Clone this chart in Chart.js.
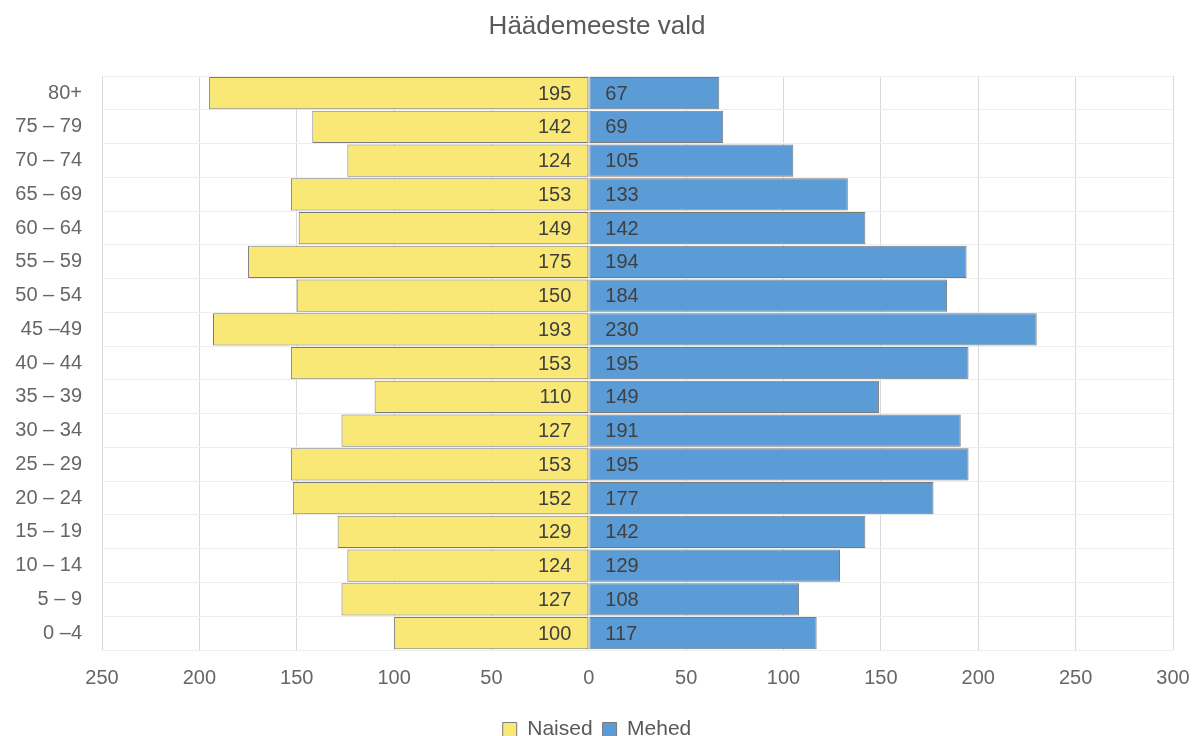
<!DOCTYPE html>
<html>
<head>
<meta charset="utf-8">
<script src="https://cdn.jsdelivr.net/npm/chart.js@4"></script>
<style>
  html, body { margin: 0; padding: 0; background: #fff; overflow: hidden; }
  #box { width: 1194px; height: 750px; }
</style>
</head>
<body>
<div id="box"><canvas id="pyramid"></canvas></div>
<script>
const vanused = ["80+", "75 – 79", "70 – 74", "65 – 69", "60 – 64", "55 – 59", "50 – 54", "45 –49",
  "40 – 44", "35 – 39", "30 – 34", "25 – 29", "20 – 24", "15 – 19", "10 – 14", "5 – 9", "0 –4"]
const naised = [195, 142, 124, 153, 149, 175, 150, 193, 153, 110, 127, 153, 152, 129, 124, 127, 100]
const mehed = [67, 69, 105, 133, 142, 194, 184, 230, 195, 149, 191, 195, 177, 142, 129, 108, 117]
const xTicks = [-250, -200, -150, -100, -50, 0, 50, 100, 150, 200, 250, 300]

const fontName = "'Liberation Sans', Arial, sans-serif"

// numbers written next to the zero line
const sildid = {
  id: "sildid",
  afterDatasetsDraw(chart) {
    let ctx = chart.ctx
    ctx.save()
    ctx.font = "20px " + fontName
    ctx.fillStyle = "#404040"
    ctx.textBaseline = "middle"
    chart.data.datasets.forEach((ds, i) => {
      let meta = chart.getDatasetMeta(i)
      meta.data.forEach((bar, j) => {
        let v = Math.abs(ds.data[j])
        if (ds.data[j] < 0) {
          ctx.textAlign = "right"
          ctx.fillText(v, bar.base - 17, bar.y + 1)
        } else {
          ctx.textAlign = "left"
          ctx.fillText(v, bar.base + 16, bar.y + 1)
        }
      })
    })
    ctx.restore()
  }
}

let graph = document.getElementById("pyramid").getContext("2d")

const config = {
  type: "bar",
  data: {
    labels: vanused,
    datasets: [
      {
        label: "Naised",
        data: naised.map(v => -v),
        backgroundColor: "rgb(249, 231, 118)",
        borderColor: "#7a7a7a",
        borderWidth: 1,
        borderSkipped: false,
        barPercentage: 1,
        categoryPercentage: 0.96
      },
      {
        label: "Mehed",
        data: mehed,
        backgroundColor: "rgb(91, 156, 214)",
        borderColor: "#7a7a7a",
        borderWidth: 1,
        borderSkipped: false,
        barPercentage: 1,
        categoryPercentage: 0.96
      }
    ]
  },
  options: {
    indexAxis: "y",
    responsive: true,
    maintainAspectRatio: false,
    animation: false,
    layout: { padding: { left: 0, right: 0 } },
    scales: {
      x: {
        stacked: true,
        min: -250,
        max: 300,
        afterBuildTicks: scale => { scale.ticks = xTicks.map(v => ({ value: v })) },
        afterFit: scale => {
          scale.height = 59
          scale.paddingLeft = 0
          scale.paddingRight = 21
        },
        ticks: {
          callback: v => Math.abs(v),
          color: "#666666",
          padding: 16,
          font: { family: fontName, size: 20 }
        },
        grid: { color: "#d9d9d9", drawTicks: false },
        border: { display: false }
      },
      y: {
        stacked: true,
        afterFit: scale => { scale.width = 102 },
        ticks: {
          color: "#666666",
          padding: 20,
          font: { family: fontName, size: 20 }
        },
        grid: { color: "#eeeeee", drawTicks: false, offset: true },
        border: { display: false }
      }
    },
    plugins: {
      title: {
        display: true,
        text: "Häädemeeste vald",
        color: "#595959",
        font: { family: fontName, size: 26, weight: "normal" },
        padding: { top: 11, bottom: 34 }
      },
      legend: {
        position: "bottom",
        labels: {
          color: "#595959",
          boxWidth: 14,
          boxHeight: 14,
          padding: 10,
          font: { family: fontName, size: 21 }
        }
      },
      tooltip: { enabled: false }
    }
  },
  plugins: [sildid]
}

const pyramidChart = new Chart(graph, config)
</script>
</body>
</html>
